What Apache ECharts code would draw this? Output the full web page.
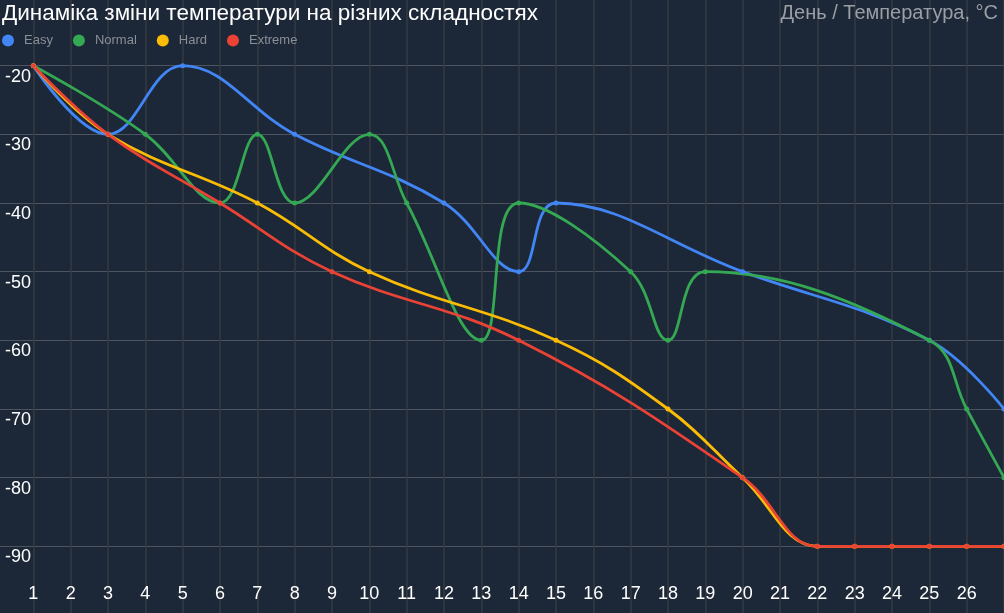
<!DOCTYPE html>
<html lang="uk">
<head>
    <meta charset="UTF-8">
    <title>Динаміка зміни температури</title>
    <style>
        html, body { margin: 0; padding: 0; background: #1c2737; }
        #main { width: 1004px; height: 613px; }
    </style>
</head>
<body>
<div id="main"></div>
<script src="https://cdn.jsdelivr.net/npm/echarts@6/dist/echarts.min.js"></script>
<script>
    const myChart = echarts.init(document.getElementById('main'));

    // день, температура
    const easy = [[1, -20], [3, -30], [5, -20], [8, -30], [12, -40], [14, -50], [15, -40], [20, -50], [25, -60], [27, -70]];
    const normal = [[1, -20], [4, -30], [6, -40], [7, -30], [8, -40], [10, -30], [11, -40], [13, -60], [14, -40], [17, -50], [18, -60], [19, -50], [25, -60], [26, -70], [27, -80]];
    const hard = [[1, -20], [3, -30], [7, -40], [10, -50], [15, -60], [18, -70], [20, -80], [22, -90], [23, -90], [24, -90], [25, -90], [26, -90], [27, -90]];
    const extreme = [[1, -20], [3, -30], [6, -40], [9, -50], [14, -60], [20, -80], [22, -90], [23, -90], [24, -90], [25, -90], [26, -90], [27, -90]];

    const seriesNames = ['Easy', 'Normal', 'Hard', 'Extreme'];
    const seriesData = [easy, normal, hard, extreme];
    const colors = ['#4285f4', '#34a853', '#fbbc05', '#ea4335'];

    const font = 'Liberation Sans, Arial, sans-serif';

    const option = {
        backgroundColor: '#1c2737',
        animation: false,
        title: [{
            text: 'Динаміка зміни температури на різних складностях',
            left: 2, top: 2, padding: 0,
            textStyle: { color: '#ffffff', fontSize: 22.5, fontWeight: 'normal', fontFamily: font }
        }, {
            text: 'День / Температура, °C',
            right: 6, top: 3, padding: 0,
            textStyle: { color: '#9a9ea5', fontSize: 20, fontWeight: 'normal', fontFamily: font }
        }],
        legend: {
            left: 2, top: 34, padding: 0,
            icon: 'circle',
            itemWidth: 12, itemHeight: 12, itemGap: 20,
            textStyle: { color: '#8a8f97', fontSize: 13, padding: [0, 0, 0, 5], fontFamily: font },
            data: seriesNames
        },
        grid: { left: -4, right: 0, top: -3, bottom: -2, containLabel: false, outerBoundsMode: 'none' },
        xAxis: {
            type: 'value',
            min: 0, max: 27, interval: 1,
            axisLine: { show: false },
            axisTick: { show: false },
            splitLine: { show: true, lineStyle: { color: '#363b43', width: 1.5 } },
            axisLabel: {
                inside: true, margin: 12,
                color: '#ffffff', fontSize: 18,
                fontFamily: font,
                formatter: v => (v >= 1 && v <= 26) ? String(v) : ''
            }
        },
        yAxis: {
            type: 'value',
            min: -100, max: -10, interval: 10,
            axisLine: { show: false },
            axisTick: { show: false },
            splitLine: { show: true, lineStyle: { color: '#4c545f', width: 1.2 } },
            axisLabel: {
                inside: true, margin: 9,
                color: '#ffffff', fontSize: 18,
                align: 'left', verticalAlign: 'top', padding: [2, 0, 0, 0],
                fontFamily: font,
                formatter: v => (v <= -20 && v >= -90) ? String(v) : ''
            }
        },
        series: seriesNames.map((name, i) => ({
            name: name,
            type: 'line',
            data: seriesData[i],
            smooth: 0.4,
            symbol: 'circle',
            symbolSize: 5,
            color: colors[i],
            lineStyle: { width: 2.8 }
        }))
    };

    myChart.setOption(option);
</script>
</body>
</html>
